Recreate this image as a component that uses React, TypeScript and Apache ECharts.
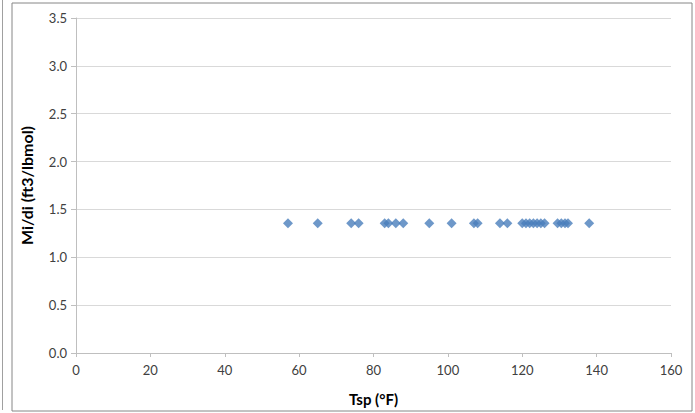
import React, { useEffect, useRef } from "react";
import * as echarts from "echarts";

const tspValues = [57, 65, 74, 76, 83, 84, 86, 88, 95, 101, 107, 108, 114, 116, 120, 121, 122, 123, 124, 125, 126, 129.5, 130.5, 131.5, 132.3, 138];
const midiValues = [1.355, 1.355, 1.355, 1.355, 1.355, 1.355, 1.355, 1.355, 1.355, 1.355, 1.355, 1.355, 1.355, 1.355, 1.355, 1.355, 1.355, 1.355, 1.355, 1.355, 1.355, 1.355, 1.355, 1.355, 1.355, 1.355];
const xTicks = [0, 20, 40, 60, 80, 100, 120, 140, 160];
const yTicks = [0, 0.5, 1.0, 1.5, 2.0, 2.5, 3.0, 3.5];

export default function App() {
  const ref = useRef<HTMLDivElement>(null);
  useEffect(() => {
    if (!ref.current) return;
    const chart = echarts.init(ref.current, undefined, { renderer: "svg" });
    const font = "Lato, 'Open Sans', sans-serif";
    chart.setOption({
      animation: false,
      backgroundColor: "#ffffff",
      grid: { left: 76, right: 24, top: 18, bottom: 60, containLabel: false },
      xAxis: {
        type: "value",
        min: xTicks[0],
        max: xTicks[xTicks.length - 1],
        interval: 20,
        name: "Tsp (°F)",
        nameLocation: "middle",
        nameGap: 38,
        nameTextStyle: { fontFamily: font, fontSize: 15, fontWeight: "bold", color: "#000" },
        axisLine: { show: true, lineStyle: { color: "#bfbfbf" } },
        axisTick: { show: true, length: 4, lineStyle: { color: "#bfbfbf" } },
        axisLabel: { fontFamily: font, fontSize: 13, color: "#404040", margin: 10 },
        splitLine: { show: false },
      },
      yAxis: {
        type: "value",
        min: yTicks[0],
        max: yTicks[yTicks.length - 1],
        interval: 0.5,
        name: "Mi/di (ft3/lbmol)",
        nameLocation: "middle",
        nameGap: 42,
        nameTextStyle: { fontFamily: font, fontSize: 16, fontWeight: "bold", color: "#000" },
        axisLine: { show: true, lineStyle: { color: "#bfbfbf" } },
        axisTick: { show: true, length: 5, lineStyle: { color: "#bfbfbf" } },
        axisLabel: {
          fontFamily: font,
          fontSize: 13,
          color: "#404040",
          margin: 9,
          formatter: (v: number) => v.toFixed(1),
        },
        splitLine: { show: true, lineStyle: { color: "#d9d9d9" } },
      },
      graphic: [
        {
          type: "rect",
          shape: { x: 12, y: 3, width: 680, height: 408 },
          style: { fill: "none", stroke: "#868686", lineWidth: 1 },
          silent: true,
        },
        {
          type: "line",
          shape: { x1: 2.5, y1: 0, x2: 2.5, y2: 410 },
          style: { stroke: "#a0a0a0", lineWidth: 1 },
          silent: true,
        },
      ],
      series: [
        {
          type: "scatter",
          symbol: "diamond",
          symbolSize: [10, 10],
          itemStyle: { color: "#4a7ebb" },
          data: tspValues.map((x, i) => [x, midiValues[i]]),
        },
      ],
    });
    return () => chart.dispose();
  }, []);
  return (
    <div
      ref={ref}
      style={{ position: "fixed", left: 0, top: 0, width: 695, height: 413 }}
    />
  );
}
